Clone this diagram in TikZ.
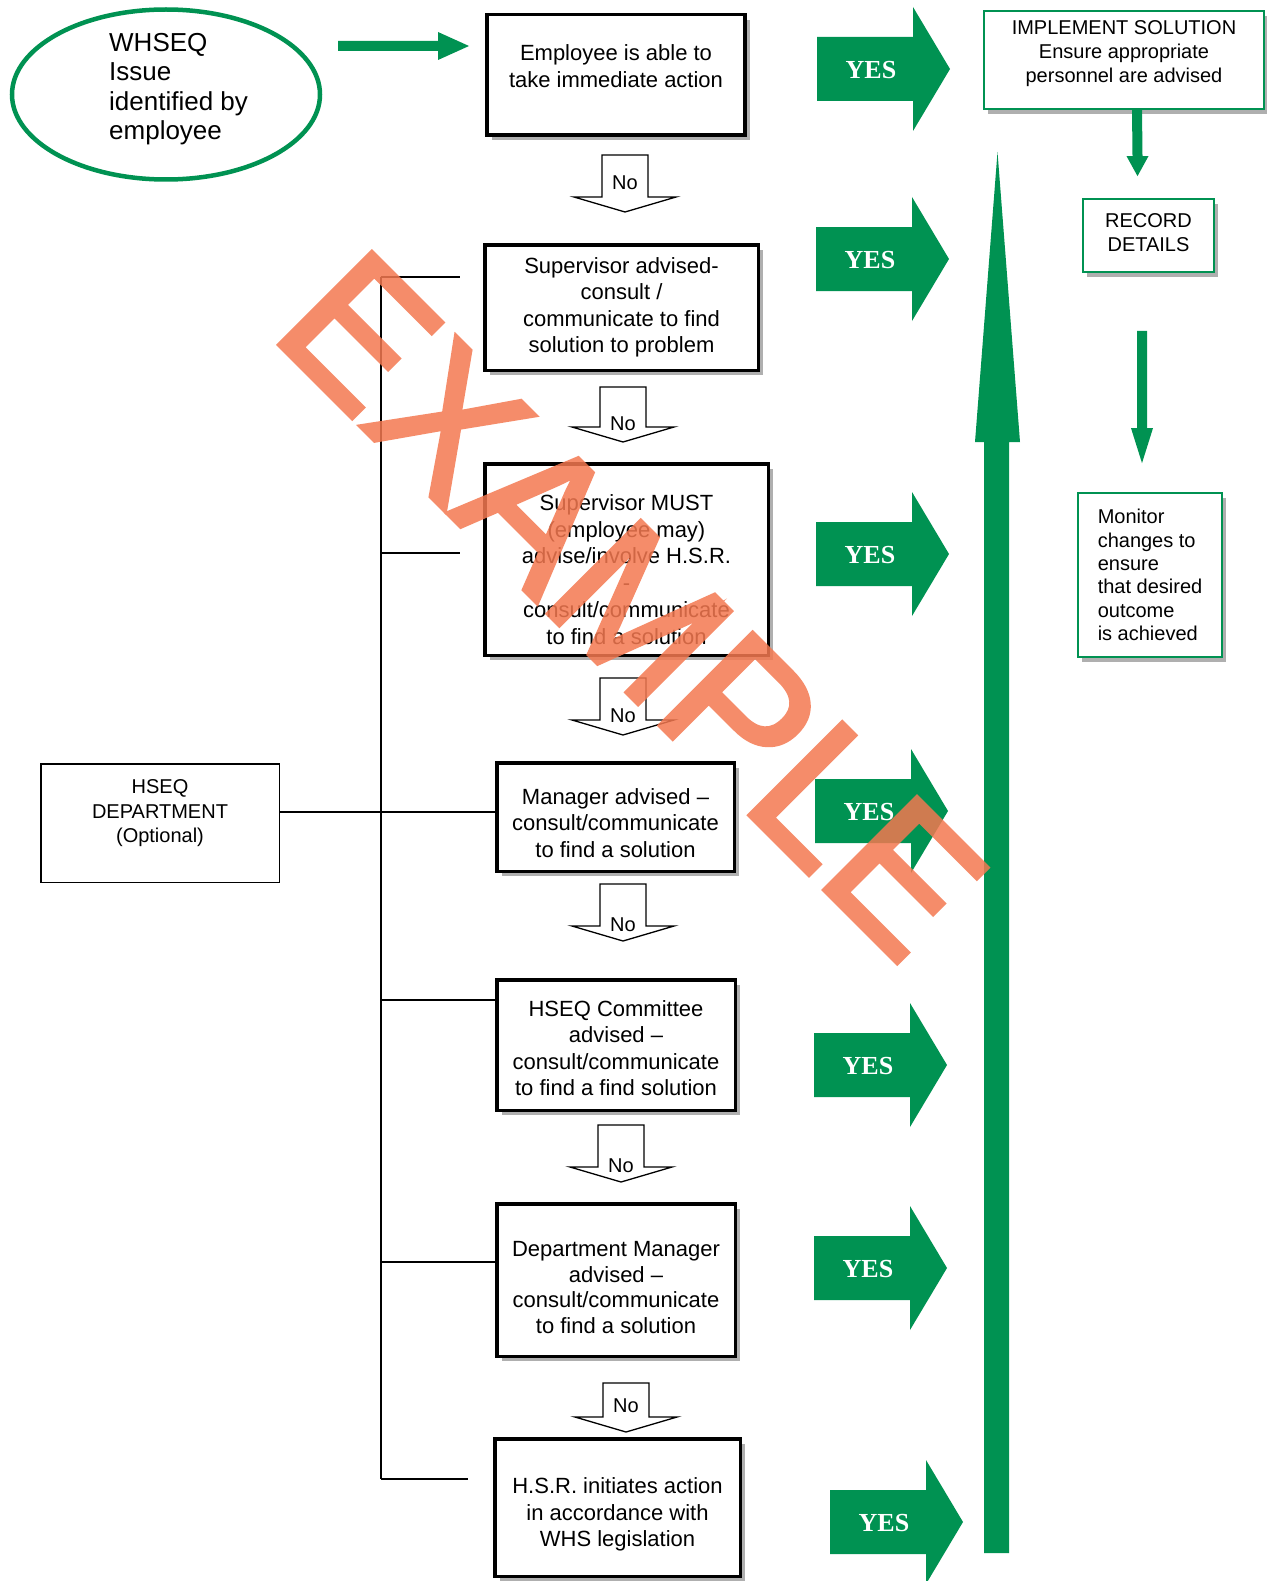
\documentclass[tikz,border=0pt]{standalone}
\usepackage{fontspec}
\setmainfont{Liberation Sans}
\newfontfamily\yesfont{Liberation Serif}
\newfontfamily\wmfont{Liberation Sans}[FakeBold=2.5]
\usetikzlibrary{calc,shadows,shapes.geometric}

\definecolor{wgreen}{RGB}{0,146,82}
\definecolor{wmark}{RGB}{244,120,80}
\definecolor{shade}{RGB}{175,175,175}

% extra room above the first line / below the last line of a node text
\newcommand\padtop[1]{\rule{0pt}{#1}}
\newcommand\padbot[1]{\rule[-#1]{0pt}{#1}}

\tikzset{
  stepbox/.style={draw=black, line width=3.5pt, fill=white, align=center, inner sep=4pt,
    font=\fontsize{22}{26.5}\selectfont,
    drop shadow={shadow xshift=5pt, shadow yshift=-5pt, fill=shade, opacity=1}},
  outbox/.style={draw=wgreen, line width=1.8pt, fill=white, align=center, inner sep=3pt,
    font=\fontsize{20}{24}\selectfont,
    drop shadow={shadow xshift=4pt, shadow yshift=-5pt, fill=shade, opacity=1}},
  deptbox/.style={draw=black, line width=1.5pt, fill=white, align=center,
    font=\fontsize{20}{24.5}\selectfont},
  issue/.style={ellipse, draw=wgreen, line width=4.5pt, fill=white,
    minimum width=308pt, minimum height=170pt, inner sep=0pt},
  issuetext/.style={align=left, inner sep=0pt, font=\fontsize{26}{29.3}\selectfont},
  noarr/.style={draw=black, line width=1.3pt, fill=white, line join=miter},
  notext/.style={font=\fontsize{20}{20}\selectfont, inner sep=0pt},
  yestext/.style={text=white, inner sep=0pt, font=\yesfont\bfseries\fontsize{26}{26}\selectfont},
  bracket/.style={draw=black, line width=1.4pt},
  watermark/.style={text=wmark, inner sep=0pt, font=\wmfont\fontsize{190}{190}\selectfont}
}

% green "YES" block arrow: name, tail x, centre y
\newcommand\yesarrow[3]{%
  \fill[wgreen] (#2,#3-32) -- (#2+96,#3-32) -- (#2+96,#3-62) -- (#2+133,#3)
    -- (#2+96,#3+62) -- (#2+96,#3+32) -- (#2,#3+32) -- cycle;
  \node[yestext] (#1) at (#2+54,#3+1) {YES};}

% outlined "No" block arrow: name, axis x, top y, head base y, label y
\newcommand\noarrow[5]{%
  \draw[noarr] (#2-23,#4) -- (#2-23,#3) -- (#2+23,#3) -- (#2+23,#4) -- (#2+51,#4)
    -- (#2,#4+15) -- (#2-51,#4) -- cycle;
  \node[notext] (#1) at (#2,#5) {No};}

\begin{document}
\begin{tikzpicture}[x=1pt,y=-1pt]
\useasboundingbox (0,0) rectangle (1266,1581);
\fill[white] (0,0) rectangle (1266,1581);

% starting point
\node[issue] (issue) at (166,94.5) {};
\node[issuetext, anchor=west] (issuetext) at (109,89) {WHSEQ\\Issue\\identified by\\employee};

% escalation steps
\node[stepbox, minimum width=258pt, minimum height=120.5pt] (b1) at (616,75)
  {Employee is able to\\take immediate action\padbot{18pt}};
\node[stepbox, minimum width=273.5pt, minimum height=125.5pt] (b2) at (621.5,307.5)
  {Supervisor advised-\\consult /\\communicate to find\\solution to problem};
\node[stepbox, minimum width=283.5pt, minimum height=191.5pt, font=\fontsize{22}{26.8}\selectfont] (b3) at (626.5,559.5)
  {\padtop{36pt}Supervisor MUST\\(employee may)\\advise/involve H.S.R.\\-\\consult/communicate\\to find a solution};
\node[stepbox, minimum width=237.5pt, minimum height=108.5pt] (b4) at (615.5,817)
  {\padtop{28pt}Manager advised --\\consult/communicate\\to find a solution};
\node[stepbox, minimum width=238.5pt, minimum height=130.5pt] (b5) at (616,1045)
  {\padtop{22pt}HSEQ Committee\\advised --\\consult/communicate\\to find a find solution};
\node[stepbox, minimum width=238.5pt, minimum height=152.5pt, font=\fontsize{22}{25.8}\selectfont] (b6) at (616,1280)
  {\padtop{30pt}Department Manager\\advised --\\consult/communicate\\to find a solution};
\node[stepbox, minimum width=245.5pt, minimum height=137.5pt] (b7) at (617.5,1507.5)
  {\padtop{30pt}H.S.R. initiates action\\in accordance with\\WHS legislation};

% optional department
\node[deptbox, minimum width=238.5pt, minimum height=118.5pt] (hseq) at (160,823)
  {HSEQ\\DEPARTMENT\\(Optional)\padbot{23pt}};

% outcome column
\node[outbox, minimum width=280pt, minimum height=98pt] (impl) at (1124,60)
  {IMPLEMENT SOLUTION\\Ensure appropriate\\personnel are advised\padbot{16pt}};
\node[outbox, minimum width=131pt, minimum height=73pt, font=\fontsize{20}{24.5}\selectfont] (rec) at (1148.5,235.5)
  {RECORD\\DETAILS\padbot{6pt}};
\node[outbox, minimum width=144pt, minimum height=164pt, align=left, font=\fontsize{20}{23.3}\selectfont] (mon) at (1150,575)
  {Monitor\\changes to\\ensure\\that desired\\outcome\\is achieved};

% bracket linking the steps to the department
\coordinate (brtop) at (381,277);
\coordinate (br2) at (381,553);
\coordinate (brq) at (381,812);
\coordinate (br5) at (381,1000);
\coordinate (br6) at (381,1262);
\coordinate (brbot) at (381,1479);
\coordinate (br1e) at (460,277);
\coordinate (br2e) at (460,553);
\coordinate (br7e) at (468,1479);
\draw[bracket] (brtop) -- (brbot);
\draw[bracket] (brtop) -- (br1e);
\draw[bracket] (br2) -- (br2e);
\draw[bracket] (hseq.east |- brq) -- (brq -| b4.west);
\draw[bracket] (br5) -- (br5 -| b5.west);
\draw[bracket] (br6) -- (br6 -| b6.west);
\draw[bracket] (brbot) -- (br7e);

% "No" arrows between the steps
\noarrow{no1}{625}{155}{197}{183}
\noarrow{no2}{623}{387}{427}{424}
\noarrow{no3}{623}{678}{720}{716}
\noarrow{no4}{623}{884}{926}{925}
\noarrow{no5}{621}{1125}{1167}{1166}
\noarrow{no6}{626}{1383}{1417}{1406}

% "YES" arrows
\yesarrow{yes1}{817}{69}
\yesarrow{yes2}{816}{259}
\yesarrow{yes3}{816}{554}
\yesarrow{yes4}{815}{811}
\yesarrow{yes5}{814}{1065}
\yesarrow{yes6}{814}{1268}
\yesarrow{yes7}{830}{1522}

% green flow arrows
\coordinate (a0s) at (338,46);
\coordinate (a0e) at (469,46);
\fill[wgreen] ($(a0s)+(0,-5)$) -- ($(a0e)+(-31,-5)$) -- ($(a0e)+(-31,-14)$) -- (a0e)
  -- ($(a0e)+(-31,14)$) -- ($(a0e)+(-31,5)$) -- ($(a0s)+(0,5)$) -- cycle;
\coordinate (r1s) at ($(impl.south)+(13,0)$);
\coordinate (r1t) at ($(rec.north)+(-11,-22)$);
\fill[wgreen] ($(r1s)+(-5,0)$) -- ($(r1t)+(-5,-20)$) -- ($(r1t)+(-11,-20)$) -- (r1t)
  -- ($(r1t)+(11,-20)$) -- ($(r1t)+(5,-20)$) -- ($(r1s)+(5,0)$) -- cycle;
\coordinate (r2s) at ($(rec.south)+(-6.5,58)$);
\coordinate (r2t) at ($(mon.north)+(-8,-29)$);
\fill[wgreen] ($(r2s)+(-5,0)$) -- ($(r2t)+(-5,-35)$) -- ($(r2t)+(-11,-35)$) -- (r2t)
  -- ($(r2t)+(11,-35)$) -- ($(r2t)+(5,-35)$) -- ($(r2s)+(5,0)$) -- cycle;

% long upward arrow
\fill[wgreen] (984,1553) -- (984,442) -- (975,442) -- (997.5,152) -- (1020,442)
  -- (1009,442) -- (1009,1553) -- cycle;

% watermark, composited as one translucent layer
\begin{scope}[transparency group, opacity=0.85]
  \node[watermark, rotate=-45] (wm) at (632,605) {EXAMPLE};
\end{scope}
\end{tikzpicture}
\end{document}
